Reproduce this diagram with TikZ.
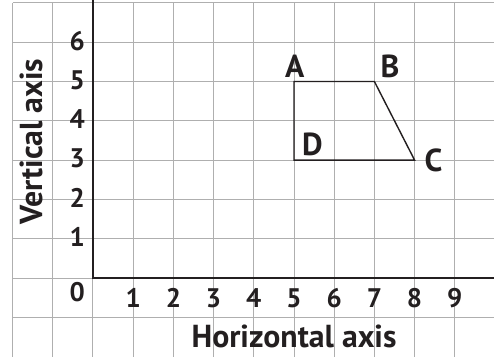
\documentclass[tikz,border=0pt]{standalone}
\usepackage{fontspec}
\setmainfont{PT Sans}
\usepackage{xcolor}
\usepackage{tikz}
\usetikzlibrary{positioning, calc}
\definecolor{gridGray}{RGB}{175, 175, 175}
\definecolor{inkDark}{RGB}{35, 31, 32}

\tikzset{
  ticklabel/.style={font=\fontsize{19}{21}\selectfont\bfseries, text=inkDark, anchor=base, inner sep=0pt},
  pointlabel/.style={font=\fontsize{22.5}{25}\selectfont\bfseries, text=inkDark, anchor=base, inner sep=0pt},
  axislabel/.style={font=\fontsize{22.5}{25}\selectfont\bfseries, text=inkDark, anchor=base, inner sep=0pt}
}

\begin{document}
\begin{tikzpicture}[x=1cm, y=0.9776cm]
    \useasboundingbox (-2.313,-1.985) rectangle (9.975,7.074);
    \clip (-2.313,-1.985) rectangle (9.975,7.074);
    % Grid
    \foreach \gx in {-2,...,9}
      \draw[gridGray, line width=0.7pt] (\gx,-2) -- (\gx,7);
    \foreach \gy in {-1,...,7}
      \draw[gridGray, line width=0.7pt] (-2,\gy) -- (10,\gy);
    % Axes
    \coordinate (origin) at (0,0);
    \coordinate (ytop) at (0,7.1);
    \coordinate (xend) at (10,0);
    \draw[inkDark, line width=1.4pt] (ytop) -- (origin) -- (xend);
    % Tick labels
    \foreach \k in {1,...,9}
      \node[ticklabel] (xt\k) at (\k,-0.76) {\k};
    \foreach \k in {1,...,6}
      \node[ticklabel] (yt\k) at (-0.39,\k-0.2) {\k};
    \node[ticklabel] (zero) at (-0.39,-0.61) {0};
    % Axis titles
    \node[axislabel] (hlabel) at (5.0,-1.756) {Horizontal axis};
    \node[axislabel, rotate=90] (vlabel) at (-1.244,3.47) {Vertical axis};
    % Shape ABCD
    \coordinate (A) at (5,5);
    \coordinate (B) at (7,5);
    \coordinate (C) at (8,3);
    \coordinate (D) at (5,3);
    \draw[inkDark, line width=1pt] (A) -- (B) -- (C) -- (D) -- cycle;
    \node[pointlabel] (labA) at (5.02,5.09) {A};
    \node[pointlabel] (labB) at (7.39,5.09) {B};
    \node[pointlabel] (labC) at (8.47,2.70) {C};
    \node[pointlabel] (labD) at (5.46,3.13) {D};
\end{tikzpicture}
\end{document}
